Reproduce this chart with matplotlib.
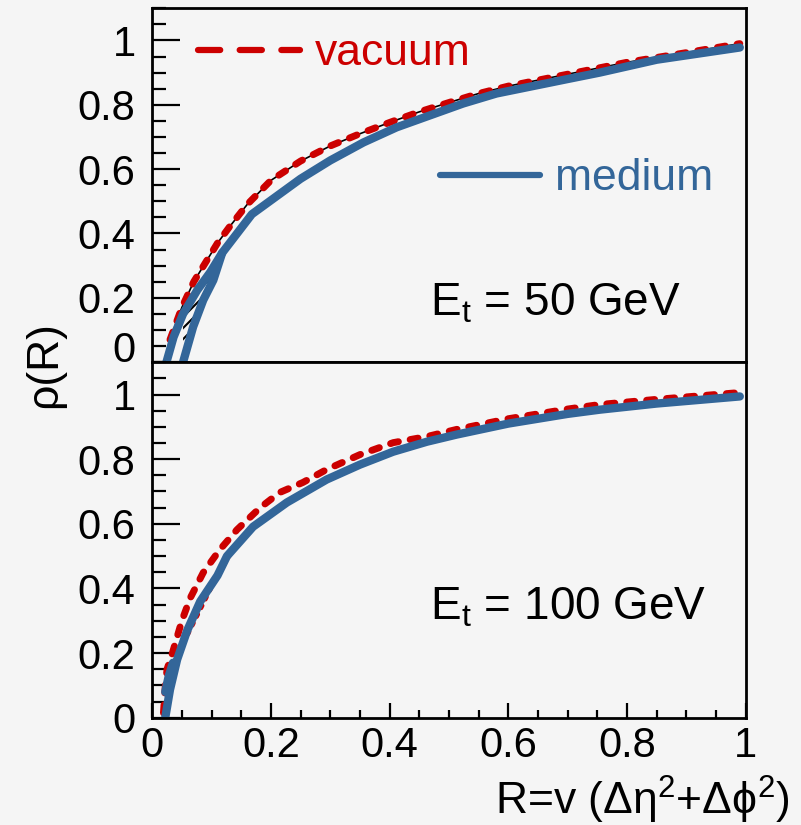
import matplotlib
matplotlib.use('Agg')
import matplotlib.pyplot as plt
from matplotlib.ticker import MultipleLocator

plt.rcParams['font.family'] = ['Liberation Sans', 'DejaVu Sans']
plt.rcParams['mathtext.fontset'] = 'custom'
plt.rcParams['mathtext.rm'] = 'Liberation Sans'
plt.rcParams['mathtext.it'] = 'Liberation Sans'
plt.rcParams['lines.scale_dashes'] = False
plt.rcParams['hatch.color'] = 'black'
plt.rcParams['hatch.linewidth'] = 1.5

bg = '#f5f5f5'
red = '#cc0000'
blue = '#336699'

# ---- Et = 50 GeV ----
r_vac_50 = [0.03, 0.05, 0.07, 0.09, 0.11, 0.13, 0.16, 0.2, 0.25, 0.3, 0.35, 0.4, 0.45,
            0.5, 0.55, 0.6, 0.7, 0.8, 0.9, 0.99]
rho_vac_50 = [0.07, 0.17, 0.25, 0.31, 0.37, 0.42, 0.49, 0.565, 0.625, 0.672, 0.71, 0.745,
              0.778, 0.807, 0.835, 0.858, 0.895, 0.932, 0.962, 0.99]
r_med_50 = [0.024, 0.036, 0.052, 0.076, 0.098, 0.118, 0.168, 0.25, 0.3, 0.356, 0.412,
            0.468, 0.524, 0.58, 0.7, 0.754, 0.85, 0.99]
rho_med_50 = [0.0, 0.078, 0.15, 0.224, 0.28, 0.34, 0.46, 0.57, 0.627, 0.683, 0.73,
              0.767, 0.804, 0.835, 0.88, 0.9, 0.94, 0.978]
r_medlo_50 = [0.052, 0.069, 0.086, 0.103, 0.118]
rho_medlo_50 = [0.0, 0.11, 0.193, 0.255, 0.34]
rho_medhi_50 = [0.15, 0.20, 0.245, 0.295, 0.34]

# ---- Et = 100 GeV ----
r_vac_100 = [0.019, 0.022, 0.025, 0.034, 0.042, 0.05, 0.064, 0.086, 0.114, 0.143, 0.182,
             0.215, 0.254, 0.294, 0.35, 0.406, 0.463, 0.513, 0.6, 0.7, 0.754, 0.85, 0.99]
rho_vac_100 = [0.015, 0.096, 0.15, 0.2, 0.25, 0.3, 0.37, 0.449, 0.52, 0.582, 0.65,
               0.697, 0.728, 0.768, 0.814, 0.851, 0.87, 0.892, 0.925, 0.955, 0.969, 0.985, 1.006]
r_vaclo_100 = [0.02, 0.035, 0.05, 0.08, 0.11, 0.13]
rho_vaclo_100 = [0.0, 0.15, 0.22, 0.33, 0.44, 0.5]
r_med_100 = [0.022, 0.03, 0.042, 0.059, 0.081, 0.11, 0.126, 0.17, 0.227, 0.294, 0.35,
             0.406, 0.463, 0.513, 0.6, 0.7, 0.754, 0.85, 0.99]
rho_med_100 = [0.0, 0.087, 0.18, 0.27, 0.36, 0.44, 0.5, 0.591, 0.666, 0.737, 0.783,
               0.823, 0.854, 0.876, 0.91, 0.94, 0.953, 0.972, 0.994]
r_medhi_100 = [0.022, 0.028, 0.035]
rho_medhi_100 = [0.08, 0.13, 0.17]

xticks = [0, 0.2, 0.4, 0.6, 0.8, 1]
xticklabels = ['0', '0.2', '0.4', '0.6', '0.8', '1']
yticks = [0, 0.2, 0.4, 0.6, 0.8, 1]
yticklabels = ['0', '0.2', '0.4', '0.6', '0.8', '1']

fig = plt.figure(figsize=(8.01, 8.25), dpi=100, facecolor=bg)
ax1 = fig.add_axes([0.190, 0.561, 0.741, 0.429])
ax2 = fig.add_axes([0.190, 0.130, 0.741, 0.431])

vac_kw = dict(color=red, lw=5, dashes=(5.8, 8.6), dash_capstyle='round', solid_capstyle='round')
med_kw = dict(color=blue, lw=6, solid_capstyle='round', solid_joinstyle='round')

for ax in (ax1, ax2):
    ax.set_facecolor(bg)
    ax.set_xlim(0, 1)
    ax.set_ylim(0, 1.1)
    for s in ax.spines.values():
        s.set_linewidth(2)
    ax.yaxis.set_minor_locator(MultipleLocator(0.05))
    ax.set_yticks(yticks)
    ax.set_yticklabels(yticklabels)
    ax.xaxis.set_minor_locator(MultipleLocator(0.05))
    ax.set_xticks(xticks)
    ax.tick_params(axis='y', which='major', direction='in', length=20, width=1.6,
                   labelsize=30, pad=12, right=False)
    ax.tick_params(axis='y', which='minor', direction='in', length=10, width=1.6, right=False)
    ax.tick_params(axis='x', which='major', direction='in', length=11, width=1.6,
                   labelsize=30, pad=6, top=False)
    ax.tick_params(axis='x', which='minor', direction='in', length=6, width=1.6, top=False)

ax1.tick_params(axis='x', which='both', bottom=False, labelbottom=False)
ax2.set_xticklabels(xticklabels)
# the lowest label of the upper pad sits on its tick, as in the original
ax1.get_yticklabels()[0].set_verticalalignment('baseline')

# top panel
ax1.fill_between(r_medlo_50, rho_medlo_50, rho_medhi_50, facecolor='none',
                 edgecolor='black', hatch='///', linewidth=0)
ax1.plot(r_vac_50, rho_vac_50, color='black', lw=1.2)
ax1.plot(r_vac_50, rho_vac_50, **vac_kw)
ax1.plot(r_medlo_50, rho_medlo_50, **med_kw)
ax1.plot(r_med_50, rho_med_50, **med_kw)

# bottom panel
ax2.plot(r_vaclo_100, rho_vaclo_100, color=red, lw=3, dashes=(2, 5), dash_capstyle='round')
ax2.plot(r_vac_100, rho_vac_100, **vac_kw)
ax2.plot(r_medhi_100, rho_medhi_100, **med_kw)
ax2.plot(r_med_100, rho_med_100, **med_kw)

# legend entries
ax1.plot([0.077, 0.249], [0.881, 0.881], transform=ax1.transAxes, color=red, lw=4.5,
         dashes=(16, 14), dash_capstyle='round')
ax1.text(0.274, 0.839, 'vacuum', transform=ax1.transAxes, color=red, fontsize=32,
         va='baseline', ha='left')
ax1.plot([0.485, 0.653], [0.528, 0.528], transform=ax1.transAxes, color=blue, lw=4.5,
         solid_capstyle='round')
ax1.text(0.678, 0.486, 'medium', transform=ax1.transAxes, color=blue, fontsize=32,
         va='baseline', ha='left')

ax1.text(0.468, 0.133, r'E$_\mathrm{t}$ = 50 GeV', transform=ax1.transAxes,
         fontsize=33, va='baseline', ha='left')
ax2.text(0.468, 0.275, r'E$_\mathrm{t}$ = 100 GeV', transform=ax2.transAxes,
         fontsize=33, va='baseline', ha='left')

fig.text(45 / 801, 1 - 365 / 825, 'ρ(R)', rotation=90, fontsize=32, ha='center', va='center')
fig.text(790 / 801, 1 - 815 / 825, r'R=v (Δη$^{2}$+Δϕ$^{2}$)', fontsize=32,
         ha='right', va='baseline')

fig.savefig('out.png', dpi=100, facecolor=bg)
